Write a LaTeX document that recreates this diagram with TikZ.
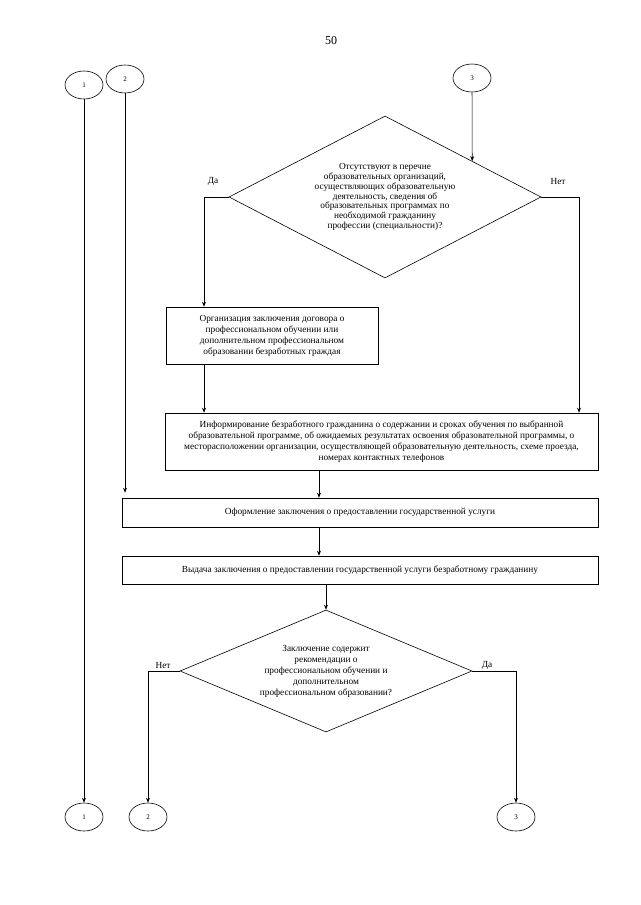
\documentclass[tikz,border=0pt]{standalone}
\usepackage{fontspec}
\setmainfont{Liberation Serif}
\usetikzlibrary{arrows.meta,
                calc,
                positioning,
                shapes.geometric
            }

\begin{document}
\begin{tikzpicture}[x=1pt, y=-1pt,
        every node/.style={font=\fontsize{9.3}{11}\selectfont},
        flowbox/.style={draw, line width=0.6pt, align=center, inner sep=2pt},
        query/.style={draw, diamond, line width=0.6pt, align=center, inner sep=0pt},
        connector/.style={draw, ellipse, line width=0.6pt, minimum width=38pt, minimum height=28pt, inner sep=0pt, font=\fontsize{7}{8}\selectfont},
        flow/.style={-{Stealth[length=5pt, width=4pt]}, line width=0.6pt}
    ]
                \useasboundingbox (0,0) rectangle (640,905);
                \fill[white] (0,0) rectangle (640,905);

                % Page number
                \node (pagenum) [font=\fontsize{12}{14}\selectfont] at (331,41) {50};

                % Connectors at the top
                \node (circ1) [connector] at (84,85) {1};
                \node (circ2) [connector] at (125,79) {2};
                \node (circ3) [connector] at (472,78) {3};

                % Question about the programmes
                \node (q1) [query, aspect=1.93, minimum width=312pt, minimum height=162pt, font=\fontsize{9.3}{9.8}\selectfont] at (385,197) {Отсутствуют в перечне\\ образовательных организаций,\\ осуществляющих образовательную\\ деятельность, сведения об\\ образовательных программах по\\ необходимой гражданину\\ профессии (специальности)?};

                % Actions
                \node (act1) [flowbox, minimum width=212pt, minimum height=57pt] at (272,335.5) {Организация заключения договора о\\ профессиональном обучении или\\ дополнительном профессиональном\\ образовании безработных граждая};
                \node (act2) [flowbox, minimum width=433pt, minimum height=57pt] at (381.5,441.5) {Информирование безработного гражданина о содержании и сроках обучения по выбранной\\ образовательной программе, об ожидаемых результатах освоения образовательной программы, о\\ месторасположении организации, осуществляющей образовательную деятельность, схеме проезда,\\ номерах контактных телефонов};
                \node (act3) [flowbox, minimum width=476pt, minimum height=29pt] at (360,512.5) {Оформление заключения о предоставлении государственной услуги};
                \node (act4) [flowbox, minimum width=476pt, minimum height=28pt] at (360,570) {Выдача заключения о предоставлении государственной услуги безработному гражданину};

                % Question about the recommendations
                \node (q2) [query, aspect=2.39, minimum width=292pt, minimum height=122pt] at (326,671) {Заключение содержит\\ рекомендации о\\ профессиональном обучении и\\ дополнительном\\ профессиональном образовании?};

                % Connectors at the bottom
                \node (circ1b) [connector] at (84,817) {1};
                \node (circ2b) [connector] at (148,817) {2};
                \node (circ3b) [connector] at (516,817) {3};

                % Columns of the branches
                \coordinate (yesx) at (204,0);
                \coordinate (nox) at (579,0);
                \coordinate (midx) at (319,0);

                % Branch labels
                \node (yes1) at (213,181) {Да};
                \node (no1) at (558,181) {Нет};
                \node (no2) at (163,665) {Нет};
                \node (yes2) at (487,665) {Да};

                % Arrows
                \draw[flow] (circ3) -- ($(q1.north)!0.558!(q1.east)$);
                \draw[flow] (q1.west) -| (yesx |- act1.north);
                \draw[flow] (q1.east) -| (nox |- act2.north);
                \draw[flow] (yesx |- act1.south) -- (yesx |- act2.north);
                \draw[flow] (midx |- act2.south) -- (midx |- act3.north);
                \draw[flow] (midx |- act3.south) -- (midx |- act4.north);
                \draw[flow] (act4.south -| q2.north) -- (q2.north);
                \draw[flow] (q2.west) -| (circ2b);
                \draw[flow] (q2.east) -| (circ3b);
                \draw[flow] (circ1) -- (circ1b);
                \draw[flow] (circ2) -- ($(circ2 |- act3.north)+(0,-5)$);
            \end{tikzpicture}
\end{document}
